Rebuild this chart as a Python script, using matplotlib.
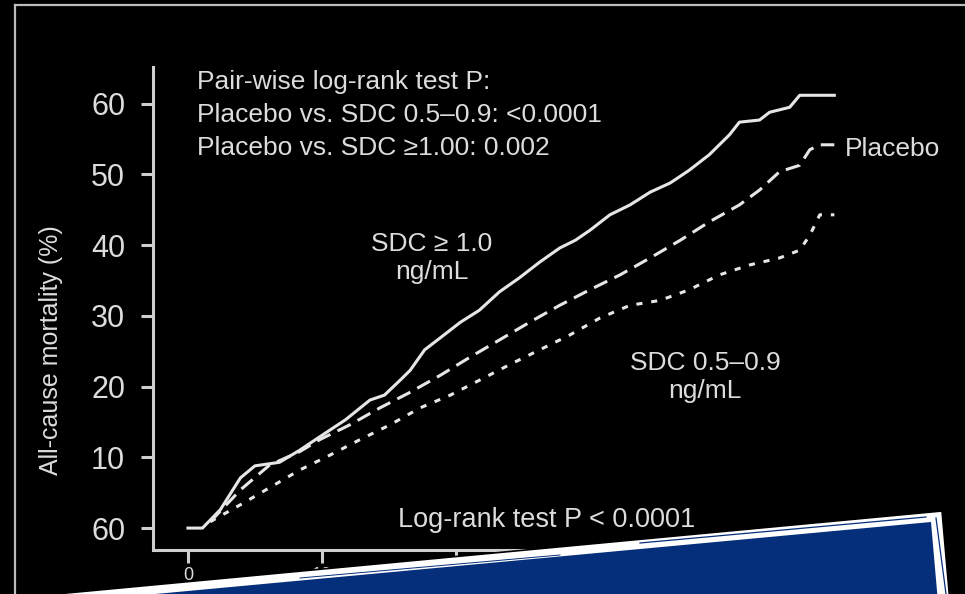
import matplotlib.pyplot as plt
from matplotlib.patches import Polygon
from matplotlib.lines import Line2D

# months of follow-up / cumulative all-cause mortality (%)
t_high = [0, 1.3, 2.9, 4.7, 6.0, 8.2, 10.0, 11.8, 14.1, 16.3, 17.6, 19.0, 19.9, 21.2,
          22.6, 24.4, 26.1, 27.9, 29.7, 31.5, 33.3, 34.7, 36.0, 37.8, 39.6, 41.4,
          43.2, 44.9, 46.7, 48.5, 49.4, 51.2, 52.1, 53.9, 54.8, 57.9]
m_high = [0, 0, 2.6, 7.1, 8.8, 9.3, 11.0, 12.9, 15.3, 18.1, 18.8, 20.9, 22.3, 25.2,
          26.9, 29.1, 30.8, 33.4, 35.4, 37.6, 39.6, 40.7, 42.1, 44.3, 45.7, 47.5,
          48.8, 50.6, 52.8, 55.6, 57.4, 57.7, 58.8, 59.5, 61.2, 61.2]

t_placebo = [2.0, 4.7, 7.3, 10.0, 11.8, 14.5, 17.2, 19.9, 22.6, 25.3, 27.9, 30.6,
             33.3, 36.0, 38.7, 41.4, 44.1, 46.7, 49.4, 51.2, 53.0, 54.8, 55.7,
             56.6, 57.9]
m_placebo = [0.9, 5.4, 8.9, 10.8, 12.5, 14.6, 17.0, 19.2, 21.6, 24.2, 26.6, 29.1,
             31.5, 33.7, 35.8, 38.2, 40.7, 43.3, 45.7, 47.8, 50.4, 51.3, 53.5,
             54.2, 54.2]

t_low = [2.0, 4.7, 7.3, 10.0, 12.7, 15.4, 18.1, 20.8, 23.5, 26.1, 28.8, 31.5, 34.2,
         36.9, 39.6, 42.3, 44.9, 47.6, 50.3, 53.0, 54.8, 55.7, 56.6, 57.9]
m_low = [0.9, 3.3, 5.7, 8.2, 10.3, 12.5, 14.6, 17.0, 18.8, 20.9, 23.1, 25.2, 27.3,
         29.7, 31.5, 32.2, 33.7, 35.8, 37.2, 38.2, 39.3, 41.4, 44.3, 44.3]

y_ticks = [0, 10, 20, 30, 40, 50, 60]
y_tick_labels = ['60', '10', '20', '30', '40', '50', '60']
x_ticks = [0, 12, 24, 36, 48, 60]

W, H = 965, 594
fg = '#e6e6e6'
txt = '#dcdcdc'
plt.rcParams['font.family'] = ['Liberation Sans', 'DejaVu Sans']


def px(x, y):
    return x / W, 1 - y / H


fig = plt.figure(figsize=(W / 100, H / 100), dpi=100, facecolor='black')
ax = fig.add_axes([153 / W, (H - 550) / H, (860 - 153) / W, (550 - 67) / H])
ax.set_facecolor('black')

ax.plot(t_high, m_high, color=fg, lw=2.2)
ax.plot(t_placebo, m_placebo, color=fg, lw=2.2, linestyle=(0, (4.8, 2.6)))
ax.plot(t_low, m_low, color=fg, lw=2.2, linestyle=(0, (2.0, 2.9)))

ax.set_xlim(-3.13, 60.2)
ax.set_ylim(-3.1, 65.2)
ax.set_yticks(y_ticks)
ax.set_yticklabels(y_tick_labels)
ax.set_xticks(x_ticks)
ax.set_xticklabels([str(v) for v in x_ticks])
for s in ['top', 'right']:
    ax.spines[s].set_visible(False)
for s in ['left', 'bottom']:
    ax.spines[s].set_color('#cfcfcf')
    ax.spines[s].set_linewidth(2.2)
ax.tick_params(colors='#cfcfcf', width=2.2, length=9, labelcolor=txt)
ax.tick_params(axis='y', labelsize=22, pad=11)
ax.tick_params(axis='x', labelsize=13, pad=3)
ax.set_ylabel('All-cause mortality (%)', color=txt, fontsize=18)
ax.yaxis.set_label_coords(-0.128, 0.414)

fs = 19
fig.text(*px(197, 82), 'Pair-wise log-rank test P:', color=txt, fontsize=fs, va='center')
fig.text(*px(197, 115), 'Placebo vs. SDC 0.5\u20130.9: <0.0001', color=txt, fontsize=fs, va='center')
fig.text(*px(197, 148), 'Placebo vs. SDC \u22651.00: 0.002', color=txt, fontsize=fs, va='center')
fig.text(*px(432, 258), 'SDC \u2265 1.0\nng/mL', color=txt, fontsize=fs, ha='center', va='center',
         linespacing=1.2)
fig.text(*px(845, 149), 'Placebo', color=txt, fontsize=fs, va='center')
fig.text(*px(705, 377), 'SDC 0.5\u20130.9\nng/mL', color=txt, fontsize=fs, ha='center', va='center',
         linespacing=1.2)
fig.text(*px(398, 520), 'Log-rank test P < 0.0001', color=txt, fontsize=19.5, va='center')

# outer frame
fig.add_artist(Line2D([15 / W, 1], [1 - 5 / H] * 2, color='#bdbdbd', lw=1.6))
fig.add_artist(Line2D([15 / W] * 2, [0, 1 - 5 / H], color='#bdbdbd', lw=1.6))

# blue banner across the bottom
outer = [px(-200, 618), px(942, 511), px(955, 660), px(-200, 660)]
inner = [px(-200, 627), px(931, 522), px(943, 660), px(-200, 660)]
fig.add_artist(Polygon(outer, closed=True, facecolor='white', edgecolor='black', lw=1.2,
                       transform=fig.transFigure))
fig.add_artist(Polygon(inner, closed=True, facecolor='#062f7b', edgecolor='none',
                       transform=fig.transFigure))
fig.add_artist(Line2D([640 / W, 926 / W], [1 - 543 / H, 1 - 517 / H], color='#062f7b', lw=0.9))
fig.add_artist(Line2D([300 / W, 560 / W], [1 - 578 / H, 1 - 555 / H], color='#062f7b', lw=0.7))
fig.add_artist(Line2D([936 / W, 946 / W], [1 - 518 / H, 1 - 594 / H], color='#062f7b', lw=0.9))

fig.savefig('out.png', dpi=100, facecolor='black')
